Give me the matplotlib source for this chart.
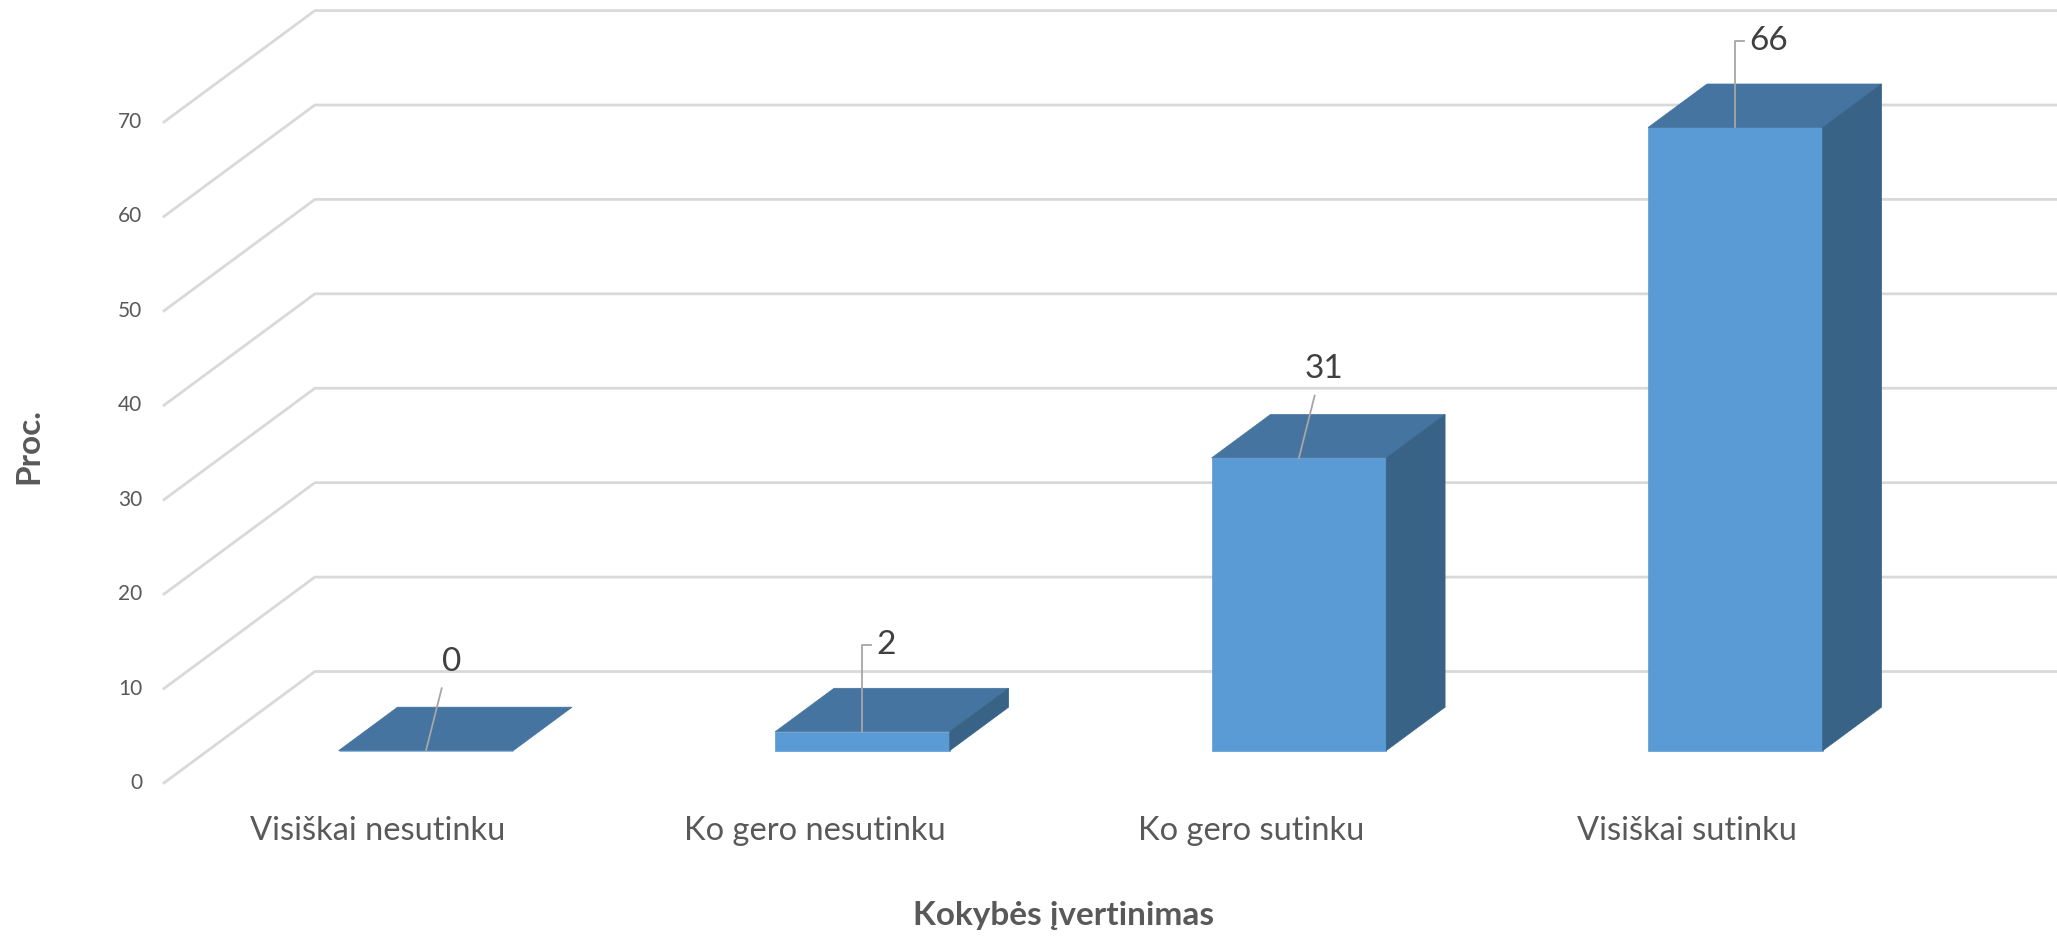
import matplotlib
matplotlib.use("Agg")
import matplotlib.pyplot as plt
from matplotlib.patches import Polygon

# ---- data ----
categories = ["Visiškai nesutinku", "Ko gero nesutinku", "Ko gero sutinku", "Visiškai sutinku"]
values = [0, 2, 31, 66]
y_ticks = [0, 10, 20, 30, 40, 50, 60, 70]
x_title = "Kokybės įvertinimas"
y_title = "Proc."

# ---- styling / projection ----
plt.rcParams['font.family'] = ['Lato', 'DejaVu Sans']
FRONT = "#5B9BD5"
TOP = "#44749F"
SIDE = "#386387"
GRID = "#D9D9D9"
TXT = "#595959"
LBL = "#404040"
LEAD = "#A6A6A6"

DX, DY = 0.3457, 11.8      # full-depth oblique shift (data units)
d0 = 0.29                  # bar front depth fraction
dd = 0.39                  # bar thickness fraction
bw = 0.40                  # bar width

fig = plt.figure(figsize=(20.57, 9.39), dpi=100)
ax = fig.add_axes([0, 0, 1, 1])
ax.set_xlim(-0.8757, 3.837)
ax.set_ylim(-16.53, 82.92)
ax.axis("off")

n = len(categories)
xl_wall = -0.5
xr_wall = n - 0.5

# walls: side wall diagonals + back wall horizontal grid lines
for v in y_ticks:
    ax.plot([xl_wall, xl_wall + DX, xr_wall + DX], [v, v + DY, v + DY],
            color=GRID, lw=2.0, zorder=1, solid_joinstyle="miter")
    ax.text(xl_wall - 0.05, v, str(v), ha="right", va="center",
            fontsize=15, color=TXT)

# bars
xs = [i + d0 * DX for i in range(n)]
base = d0 * DY
ax.bar(xs, values, width=bw, bottom=base, color=FRONT, zorder=3,
       edgecolor=FRONT, linewidth=0.5)
for x, v in zip(xs, values):
    xl, xr = x - bw / 2, x + bw / 2
    top = base + v
    ox, oy = dd * DX, dd * DY
    ax.add_patch(Polygon([(xl, top), (xr, top), (xr + ox, top + oy), (xl + ox, top + oy)],
                         closed=True, facecolor=TOP, edgecolor=TOP, lw=0.5, zorder=4))
    if v > 0:
        ax.add_patch(Polygon([(xr, base), (xr, top), (xr + ox, top + oy), (xr + ox, base + oy)],
                             closed=True, facecolor=SIDE, edgecolor=SIDE, lw=0.5, zorder=4))

# data labels with leader lines
for i, (x, v) in enumerate(zip(xs, values)):
    top = base + v
    if i in (0, 2):
        # slanted leader, label above
        lx, ly = x + 0.058, top + 9.4
        ax.plot([x, x + 0.036], [top, top + 6.6], color=LEAD, lw=1.3, zorder=5)
        ax.text(lx, ly, str(v), ha="center", va="center", fontsize=24, color=LBL, zorder=6)
    else:
        ax.plot([x, x, x + 0.02], [top, top + 9.2, top + 9.2], color=LEAD, lw=1.3, zorder=5)
        ax.text(x + 0.032, top + 9.2, str(v), ha="left", va="center",
                fontsize=24, color=LBL, zorder=6)

# category labels
for i, c in enumerate(categories):
    ax.text(i - 0.01, -5.1, c, ha="center", va="center", fontsize=23.5, color=TXT)

# axis titles
ax.text(1.56, -14.0, x_title, ha="center", va="center", fontsize=24,
        fontweight="bold", color=TXT)
ax.text(-0.81, 35.7, y_title, ha="center", va="center", fontsize=24,
        fontweight="bold", color=TXT, rotation=90)

fig.savefig("out.png", dpi=100)
